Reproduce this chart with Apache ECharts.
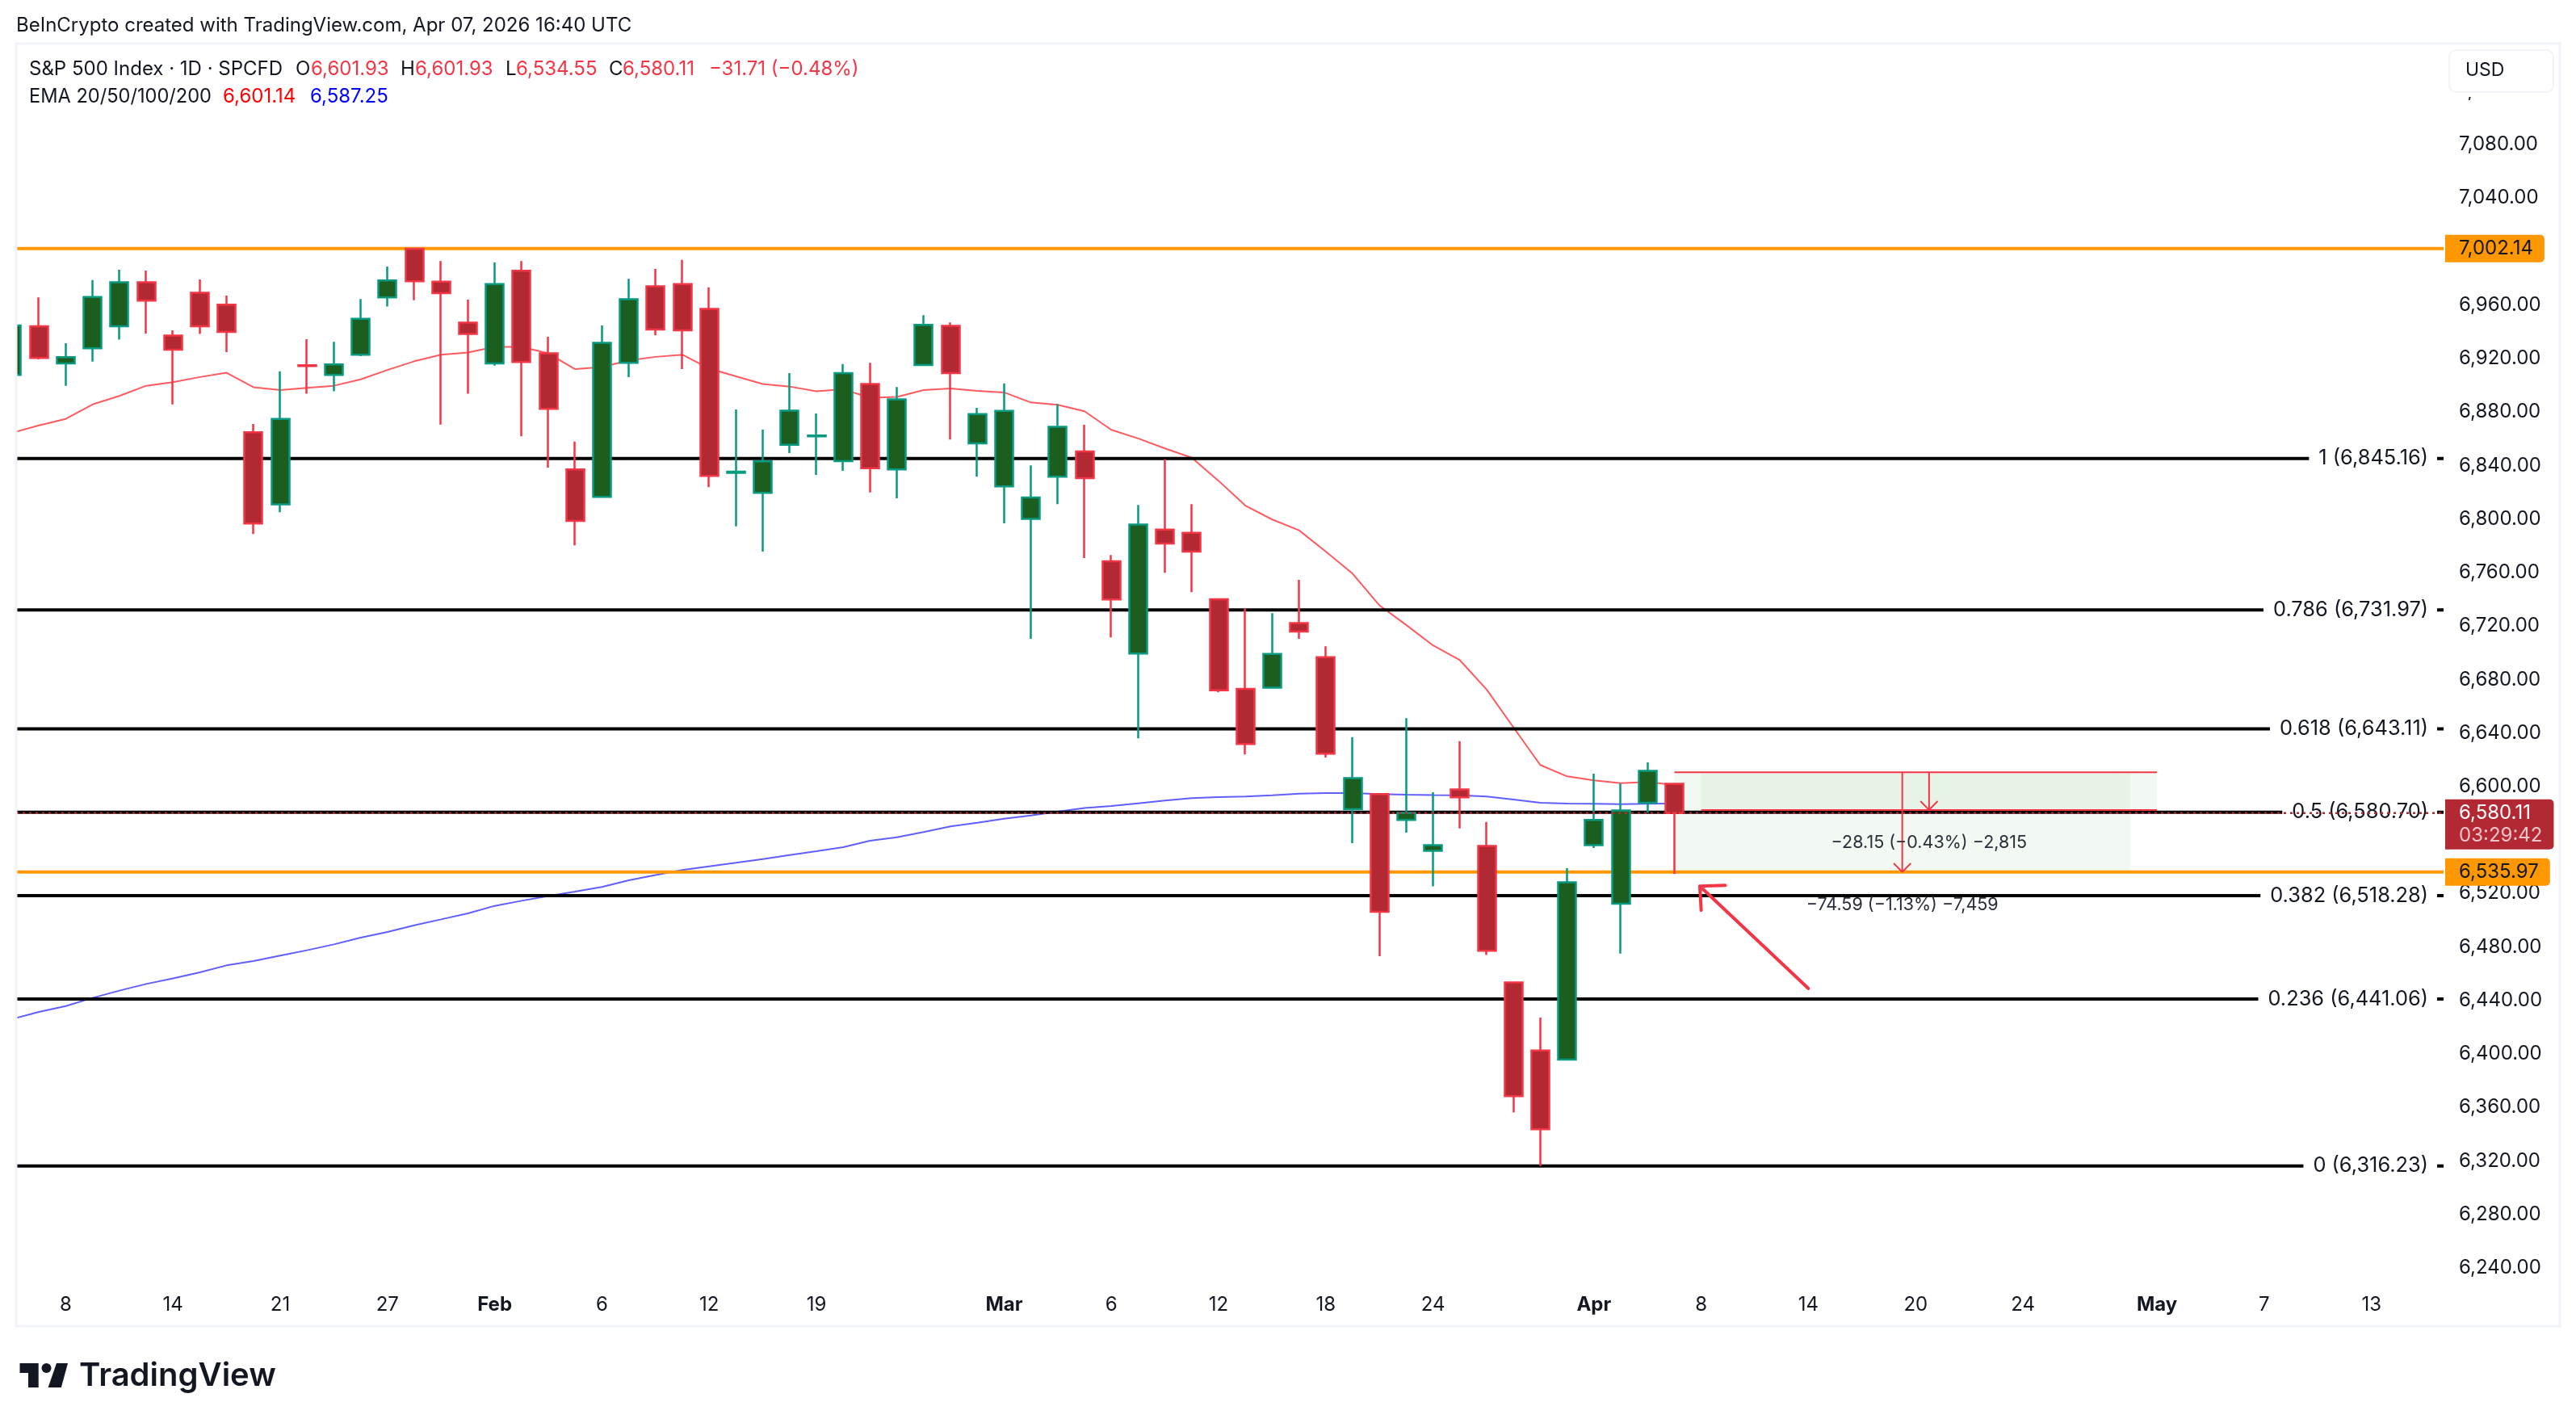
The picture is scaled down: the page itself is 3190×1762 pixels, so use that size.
<!DOCTYPE html>
<html>
<head>
<meta charset="utf-8">
<title>S&amp;P 500 Index</title>
<style>
  html, body { margin: 0; padding: 0; background: #fff; }
  #chart { width: 3190px; height: 1762px; }
</style>
<script src="https://cdn.jsdelivr.net/npm/echarts@6/dist/echarts.min.js"></script>
</head>
<body>
<div id="chart"></div>
<script>
// daily candles, index 0 is the one cut off by the left edge
const opens = [6907.7,6944.1,6916.3,6927.6,6944.1,6977.0,6937.1,6969.1,6960.2,6864.8,6810.9,6914.9,6907.7,6922.8,6965.6,7002.0,6977.5,6946.8,6916.3,6985.6,6923.8,6837.0,6816.5,6916.8,6974.0,6975.6,6957.0,6834.5,6819.5,6855.4,6861.8,6843.2,6900.9,6837.1,6915.1,6944.3,6856.5,6824.4,6800.1,6831.6,6850.4,6768.4,6699.3,6792.1,6789.7,6740.0,6673.0,6673.9,6722.1,6696.7,6582.9,6594.3,6574.9,6551.8,6597.8,6555.5,6453.5,6402.6,6395.7,6556.1,6512.3,6587.8,6601.93];
const closes = [6944.6,6920.3,6920.9,6965.9,6977.0,6963.2,6926.5,6944.1,6939.8,6796.6,6874.8,6914.4,6915.5,6949.7,6978.3,6977.8,6968.9,6938.4,6975.6,6917.4,6882.3,6798.5,6931.7,6964.3,6941.6,6941.1,6832.2,6835.3,6843.0,6881.0,6862.4,6909.0,6837.9,6889.4,6945.2,6909.1,6878.4,6880.8,6816.0,6868.9,6830.5,6739.8,6795.8,6781.7,6775.6,6671.9,6631.7,6699.0,6715.8,6624.5,6606.2,6506.3,6580.3,6556.1,6591.9,6477.2,6368.5,6343.7,6528.3,6574.9,6582.0,6611.6,6580.11];
const lows = [6895,6919.3,6899.6,6917.6,6934.1,6938.7,6885.6,6938.4,6924.7,6788.8,6805.0,6893.6,6895.5,6921.7,6958.9,6963.5,6870.5,6893.6,6914.7,6861.8,6838.4,6780.2,6816.5,6906.1,6937.3,6912.0,6823.8,6794.4,6775.6,6849.2,6833.0,6836.0,6819.8,6815.5,6915.1,6859.4,6831.6,6796.7,6710.3,6811.1,6770.7,6711.4,6636.0,6759.7,6745.2,6670.4,6623.9,6673.9,6710.3,6621.6,6557.6,6473.1,6565.4,6525.3,6568.6,6474.0,6356.2,6316.23,6395.7,6554.0,6475.0,6580.3,6534.55];
const highs = [6955,6965.6,6931.4,6978.6,6986.4,6985.8,6941.1,6979.1,6967.0,6871.0,6910.4,6934.4,6932.5,6964.5,6988.8,7002.14,6992.9,6964.0,6991.8,6992.9,6936.2,6857.8,6944.6,6979.6,6986.9,6993.7,6973.2,6881.8,6866.7,6909.0,6878.8,6915.8,6916.8,6898.7,6952.4,6946.9,6883.1,6901.3,6840.0,6886.0,6870.4,6773.0,6810.5,6844.6,6811.1,6740.0,6733.1,6729.6,6754.5,6704.8,6636.8,6594.3,6651.0,6595.6,6633.8,6573.4,6453.5,6427.2,6538.9,6609.6,6602.1,6618.0,6601.93];
const ema20 = [6864.5,6869.9,6874.8,6885.6,6892.0,6899.6,6902.3,6906.1,6909.3,6898.5,6896.3,6898.0,6899.6,6904.4,6911.4,6917.9,6922.8,6924.4,6928.7,6928.7,6923.8,6912.0,6913.6,6918.5,6921.2,6922.8,6912.5,6906.6,6900.9,6899.0,6895.5,6896.9,6890.6,6891.2,6896.4,6897.5,6895.8,6894.6,6887.1,6885.4,6880.5,6866.6,6860.2,6852.7,6845.8,6828.5,6810.0,6799.6,6791.5,6775.6,6759.1,6735.4,6720.7,6705.4,6694.4,6672.4,6644.1,6616.0,6607.5,6604.6,6602.5,6603.4,6601.14];
const ema50 = [6426.1,6431.4,6435.8,6441.9,6447.3,6452.3,6456.4,6461.0,6466.2,6469.4,6473.5,6477.5,6481.9,6487.0,6491.2,6496.2,6500.6,6505.1,6510.7,6514.5,6518.1,6521.4,6524.8,6529.8,6533.8,6537.5,6540.3,6542.9,6545.7,6548.7,6551.6,6554.6,6559.4,6562.0,6565.9,6570.1,6572.9,6575.9,6578.3,6581.1,6583.8,6585.4,6587.4,6589.4,6591.2,6592.0,6592.4,6593.4,6594.6,6595.0,6595.0,6594.3,6593.9,6593.6,6593.4,6592.4,6590.2,6587.8,6587.2,6587.0,6586.8,6587.0,6587.25];

const xTickIndex = [2,6,10,14,18,22,26,30,37,41,45,49,53,59,63,67,71,75,80,84,88];
const xTickText = ['8','14','21','27','Feb','6','12','19','Mar','6','12','18','24','Apr','8','14','20','24','May','7','13'];
const yTicks = [7120,7080,7040,7000,6960,6920,6880,6840,6800,6760,6720,6680,6640,6600,6560,6520,6480,6440,6400,6360,6320,6280,6240];

const fibPrices = [6845.16,6731.97,6643.11,6580.70,6518.28,6441.06,6316.23];
const fibText = ['1 (6,845.16)','0.786 (6,731.97)','0.618 (6,643.11)','0.5 (6,580.70)','0.382 (6,518.28)','0.236 (6,441.06)','0 (6,316.23)'];
const orangePrices = [7002.14,6535.97];
const lastPrice = 6580.11;

// two measure boxes: [start, end, top, bottom]
const measureA = [62,79,6610.56,6535.97];
const measureB = [63,80,6610.56,6582.41];
const measureAText = '\u221274.59 (\u22121.13%) \u22127,459';
const measureBText = '\u221228.15 (\u22120.43%) \u22122,815';

// hand drawn arrow, head then tail
const bigArrow = [[63.9,6526],[62.95,6525.4],[63.0,6507.4],null,[62.95,6525.4],[67.0,6448.9]];

const FONT = 'Inter';
const INK = '#131722';
const RED = '#f23645';
const TEAL = '#089981';
const ORANGE = '#ff9800';
const xMin = 0.1506, xMax = 90.69;

const chart = echarts.init(document.getElementById('chart'));

function hLine(price, color, width, z, from, to) {
    return {
        type: 'line', silent: true, showSymbol: false, z: z, animation: false,
        lineStyle: { color: color, width: width, cap: 'butt' },
        data: [[from === undefined ? xMin : from, price], [to === undefined ? xMax : to, price]]
    };
}

function vArrow(x, top, bottom) {
    return {
        type: 'line', silent: true, showSymbol: false, z: 7, animation: false, connectNulls: false,
        lineStyle: { color: RED, width: 2 },
        data: [[x, top], [x, bottom], [x - 0.32, bottom + 6.6], null, [x, bottom], [x + 0.32, bottom + 6.6]]
    };
}

function txt(x, y, text, fill, size, weight) {
    return {
        type: 'text', z: 100, silent: true,
        style: { x: x, y: y, text: text, fill: fill, fontFamily: FONT, fontSize: size || 24, fontWeight: weight || 400, verticalAlign: 'middle', align: 'left' }
    };
}

function axisBox(price, rich, offset, bg) {
    return {
        type: 'scatter', symbolSize: 0, silent: true, z: 20, clip: false, animation: false,
        itemStyle: { opacity: 1 },
        data: [[xMax, price]],
        label: {
            show: true, position: 'right', distance: 2, formatter: rich.text,
            offset: offset, verticalAlign: offset[1] ? 'top' : 'middle', align: 'left',
            backgroundColor: bg, borderRadius: [0, 5, 5, 0], padding: [3, 14, 3, 17],
            fontFamily: FONT, fontSize: 24, lineHeight: 28, color: INK, rich: rich.styles
        }
    };
}

const series = [];

// EMAs stay under the levels
series.push({ type: 'line', name: 'EMA 20', data: ema20.map((v, i) => [i, v]), showSymbol: false, z: 1, animation: false, lineStyle: { color: '#ff5a5f', width: 2 } });
series.push({ type: 'line', name: 'EMA 50', data: ema50.map((v, i) => [i, v]), showSymbol: false, z: 1, animation: false, lineStyle: { color: '#5f5fff', width: 2 } });

fibPrices.forEach(p => series.push(hLine(p, '#000', 4, 2)));
orangePrices.forEach(p => series.push(hLine(p, ORANGE, 4, 3)));

// measure fills and lines
[measureA, measureB].forEach(m => {
    series.push({
        type: 'line', silent: true, showSymbol: false, z: 2, data: [], animation: false,
        markArea: { silent: true, itemStyle: { color: 'rgba(76,175,80,0.075)' }, data: [[{ coord: [m[0], m[2]] }, { coord: [m[1], m[3]] }]] }
    });
});
series.push(hLine(measureA[2], RED, 2, 4, measureA[0], measureB[1]));
series.push(hLine(measureB[3], RED, 2, 4, measureB[0], measureB[1]));
series.push(vArrow((measureA[0] + measureA[1]) / 2, measureA[2], measureA[3]));
series.push(vArrow((measureB[0] + measureB[1]) / 2, measureB[2], measureB[3]));

series.push({
    type: 'candlestick', z: 5, animation: false, barWidth: 22.5, silent: true,
    data: opens.map((o, i) => [i, o, closes[i], lows[i], highs[i]]),
    itemStyle: { color: '#1b5e20', color0: '#b22833', borderColor: TEAL, borderColor0: RED, borderWidth: 2.5 }
});

// arrow on top of everything else in the plot
series.push({
    type: 'line', silent: true, showSymbol: false, z: 8, animation: false, connectNulls: false,
    lineStyle: { color: RED, width: 4, cap: 'round', join: 'round' },
    data: bigArrow
});

series.push({
    type: 'scatter', symbolSize: 0, silent: true, z: 9, clip: false, animation: false,
    itemStyle: { opacity: 1 },
    data: [
        { value: [(measureA[0] + measureA[1]) / 2, 6511.1], text: measureAText },
        { value: [(measureB[0] + measureB[1]) / 2, 6557.6], text: measureBText }
    ],
    label: { show: true, position: 'inside', formatter: p => p.data.text, fontFamily: FONT, fontSize: 21.5, color: '#2a2e39' }
});

// fib labels sit on the lines and cut them
series.push({
    type: 'scatter', symbolSize: 0, silent: true, z: 10, clip: false, animation: false,
    itemStyle: { opacity: 1 },
    data: fibPrices.map((p, i) => ({ value: [90.45, p], text: fibText[i] })),
    label: {
        show: true, position: 'left', distance: 0, formatter: p => p.data.text,
        backgroundColor: '#fff', padding: [2, 11, 2, 12],
        fontFamily: FONT, fontSize: 25.4, color: INK
    }
});

// dotted last price line
const lastLine = hLine(lastPrice, '#b22833', 2.5, 11);
lastLine.lineStyle.type = [3, 5];
series.push(lastLine);

series.push(axisBox(orangePrices[0], { text: '7,002.14', styles: {} }, [0, 0], ORANGE));
series.push(axisBox(orangePrices[1], { text: '6,535.97', styles: {} }, [0, 0], ORANGE));
series.push(axisBox(lastPrice, {
    text: '{a|6,580.11}\n{b|03:29:42}',
    styles: {
        a: { color: '#fff', fontFamily: FONT, fontSize: 24, lineHeight: 28 },
        b: { color: '#eec4c8', fontFamily: FONT, fontSize: 24, lineHeight: 28 }
    }
}, [0, -17], '#b22833'));

const option = {
    backgroundColor: '#fff',
    animation: false,
    grid: { left: 20, width: 3006, top: 46.42, height: 1523.52 },
    xAxis: {
        type: 'value', min: xMin, max: xMax,
        axisLine: { show: false }, axisTick: { show: false }, splitLine: { show: false },
        axisLabel: {
            customValues: xTickIndex, margin: 34, fontFamily: FONT, fontSize: 24, color: INK,
            formatter: v => {
                const s = xTickText[xTickIndex.indexOf(v)];
                return /[A-Z]/.test(s) ? '{b|' + s + '}' : s;
            },
            rich: { b: { fontFamily: FONT, fontSize: 24, fontWeight: 700, color: INK } }
        }
    },
    yAxis: {
        type: 'value', position: 'right', min: 6240, max: 7160,
        axisLine: { show: false }, axisTick: { show: false }, splitLine: { show: false },
        axisLabel: {
            customValues: yTicks, margin: 19, fontFamily: FONT, fontSize: 24, color: INK,
            formatter: v => v.toLocaleString('en-US', { minimumFractionDigits: 2, maximumFractionDigits: 2 })
        }
    },
    series: series,
    graphic: [
        // hides the part of the first candle left of the frame
        { type: 'rect', z: 50, silent: true, shape: { x: 0, y: 40, width: 20, height: 1610 }, style: { fill: '#fff' } },
        // frame
        { type: 'rect', z: 60, silent: true, shape: { x: 20, y: 54, width: 3150, height: 1588 }, style: { fill: 'none', stroke: '#f0f3fa', lineWidth: 3 } },
        // currency button, leaves only the comma of the label under it
        { type: 'rect', z: 98, silent: true, shape: { x: 3033, y: 56, width: 129, height: 64 }, style: { fill: '#fff' } },
        { type: 'rect', z: 99, silent: true, shape: { x: 3033, y: 62, width: 129, height: 52, r: 9 }, style: { fill: '#fff', stroke: '#f0f3fa', lineWidth: 2 } },
        txt(3053, 87, 'USD', INK, 23),
        // header
        txt(20, 32, 'BeInCrypto created with TradingView.com, Apr 07, 2026 16:40 UTC', INK),
        txt(36, 86, 'S&P 500 Index \u00b7 1D \u00b7 SPCFD', INK),
        txt(366, 86, 'O', INK), txt(385, 86, '6,601.93', RED),
        txt(496, 86, 'H', INK), txt(514, 86, '6,601.93', RED),
        txt(626, 86, 'L', INK), txt(639, 86, '6,534.55', RED),
        txt(754, 86, 'C', INK), txt(771, 86, '6,580.11', RED),
        txt(878, 86, '\u221231.71 (\u22120.48%)', RED),
        txt(36, 120, 'EMA 20/50/100/200', INK, 23.6),
        txt(276, 120, '6,601.14', '#ff0000'),
        txt(384, 120, '6,587.25', '#0000ff'),
        // logo
        { type: 'polygon', z: 100, silent: true, shape: { points: [[24.5, 1688], [47.7, 1688], [47.7, 1718], [35, 1718], [35, 1700], [24.5, 1700]] }, style: { fill: '#131722' } },
        { type: 'circle', z: 100, silent: true, shape: { cx: 57.5, cy: 1694, r: 6 }, style: { fill: '#131722' } },
        { type: 'polygon', z: 100, silent: true, shape: { points: [[70, 1688], [84, 1688], [75.8, 1718], [59.6, 1718]] }, style: { fill: '#131722' } },
        txt(98, 1704, 'TradingView', '#131722', 40, 600)
    ]
};

chart.setOption(option);
</script>
</body>
</html>
